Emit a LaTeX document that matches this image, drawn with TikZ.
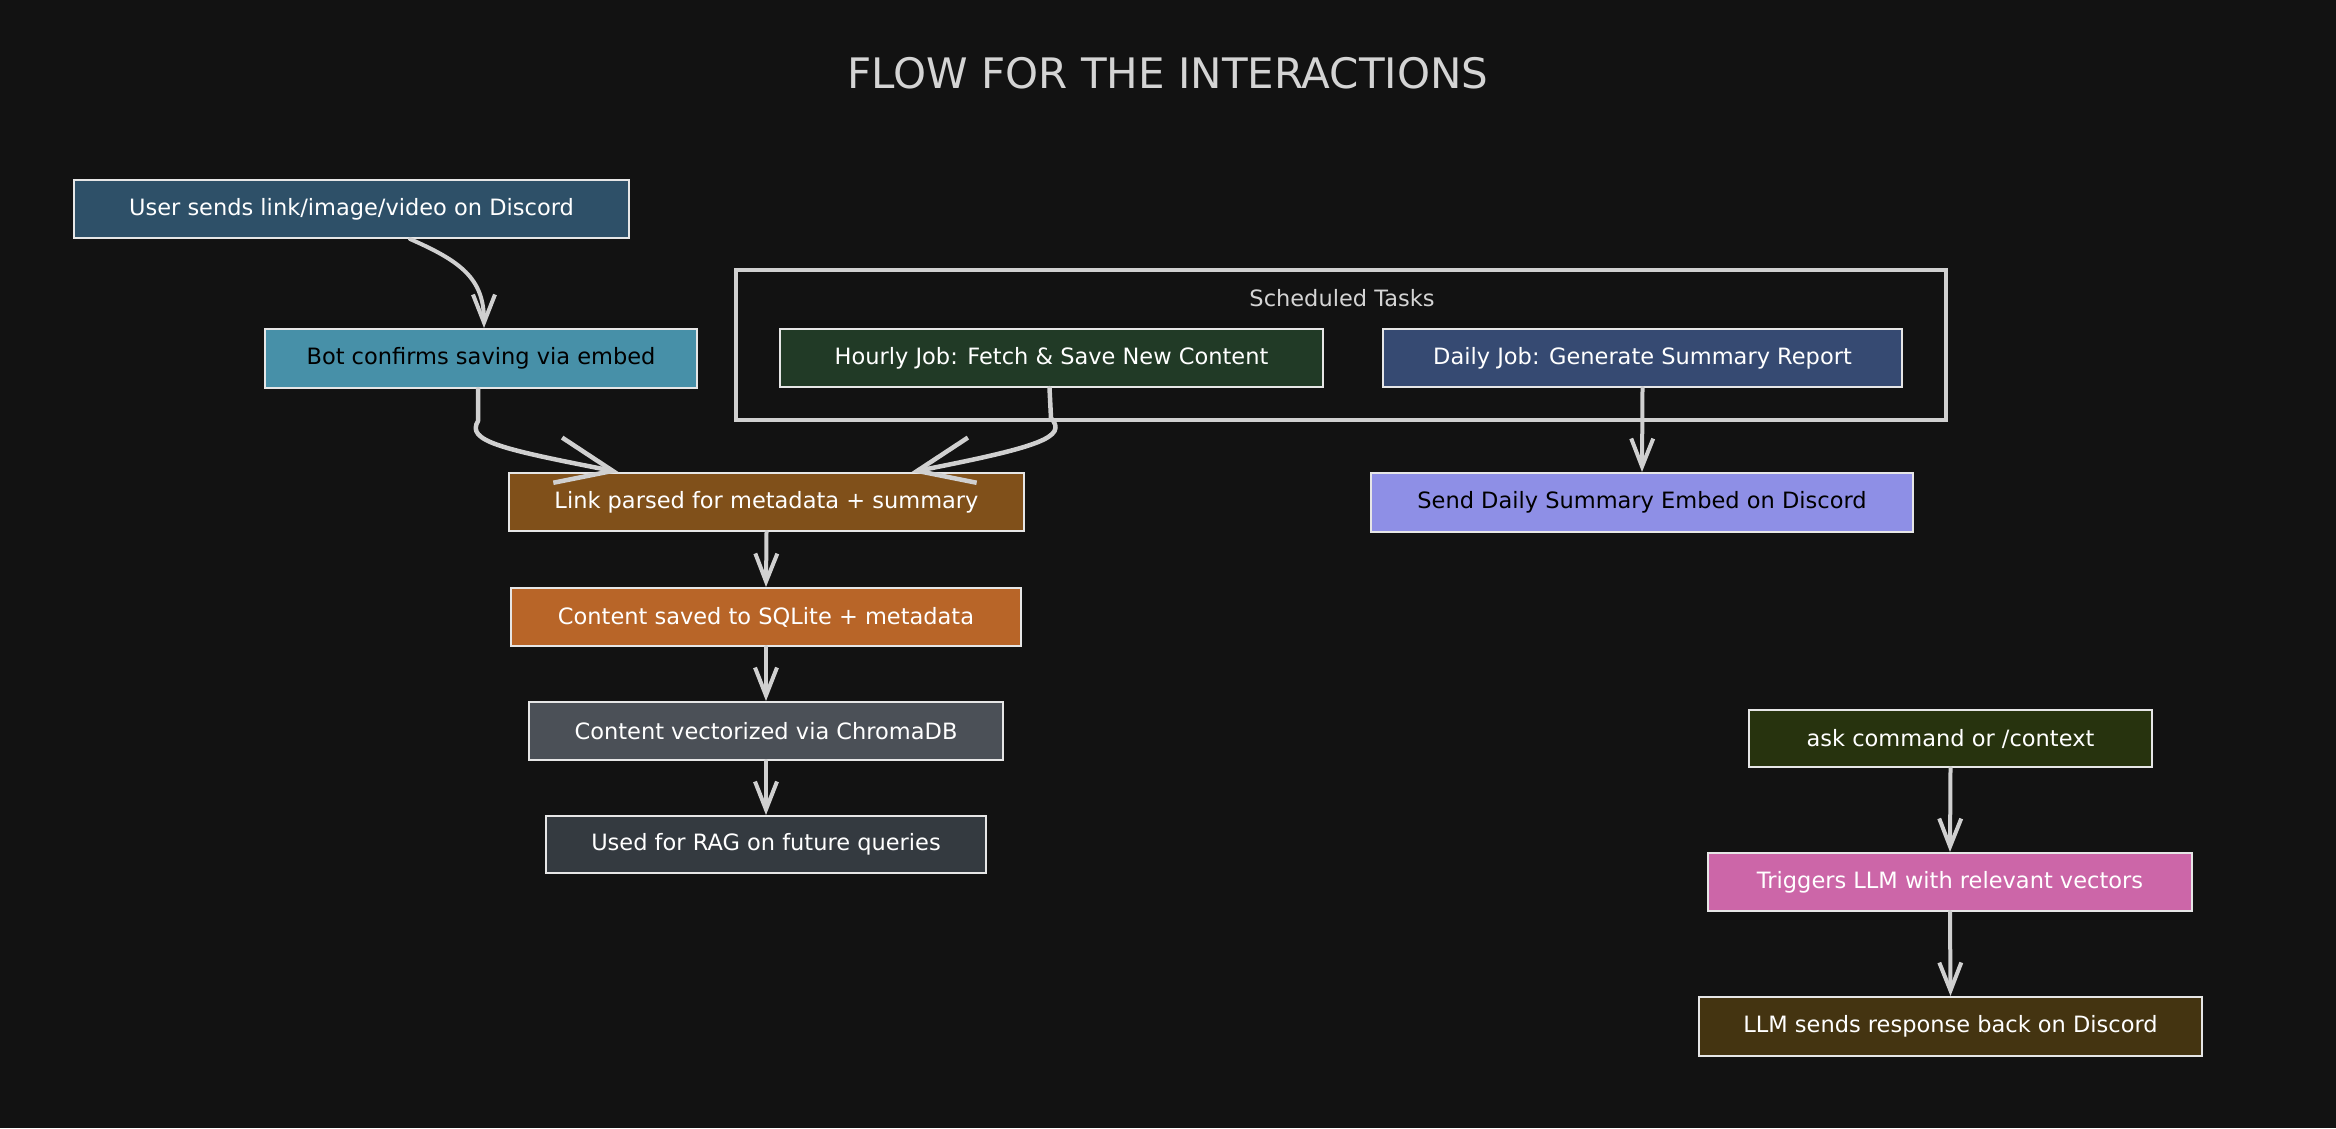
\documentclass[tikz,border=0pt]{standalone}
\usepackage{fontspec}
\setmainfont{DejaVu Sans}
\usetikzlibrary{arrows.meta}
\definecolor{bgc}{HTML}{121212}
\definecolor{boxline}{HTML}{E6E6E6}
\definecolor{arrcol}{HTML}{D0D0D0}
\definecolor{titlec}{HTML}{D4D4D4}
\definecolor{cuser}{HTML}{2E5068}
\definecolor{cbot}{HTML}{4790A8}
\definecolor{chourly}{HTML}{213A26}
\definecolor{cdaily}{HTML}{364A72}
\definecolor{csend}{HTML}{8E8FE6}
\definecolor{clink}{HTML}{80501A}
\definecolor{csaved}{HTML}{B86528}
\definecolor{cvect}{HTML}{4B5057}
\definecolor{crag}{HTML}{343A40}
\definecolor{cask}{HTML}{27330E}
\definecolor{ctrig}{HTML}{CC66A8}
\definecolor{cllm}{HTML}{443411}
\begin{document}
\begin{tikzpicture}[x=1pt,y=-1pt,
  box/.style={draw=boxline, line width=2pt, inner sep=0pt, text=white,
    font=\fontsize{22.5}{27}\selectfont},
  arr/.style={draw=arrcol, line width=4pt, line cap=round, line join=round,
    -{Straight Barb[length=28pt,width=22pt]}},
  bigarr/.style={draw=arrcol, line width=4.5pt, line cap=round, line join=round,
    -{Straight Barb[length=56pt,width=46pt]}}]
\fill[bgc] (0,0) rectangle (2336,1128);
\useasboundingbox (0,0) rectangle (2336,1128);

\node[text=titlec, font=\fontsize{42}{48}\selectfont] (title) at (1168,73) {FLOW FOR THE INTERACTIONS};

% scheduled group
\node[draw=arrcol, line width=4pt, minimum width=1210pt, minimum height=150pt, inner sep=0pt] (group) at (1341,345) {};
\node[text=titlec, font=\fontsize{22.5}{27}\selectfont] (schedlabel) at (1342,298) {Scheduled Tasks};

\node[box, fill=cuser, minimum width=555pt, minimum height=58pt] (user) at (351.5,209) {User sends link/image/video on Discord};
\node[box, fill=cbot, text=black, minimum width=432pt, minimum height=59pt] (bot) at (481,358.5) {Bot confirms saving via embed};
\node[box, fill=chourly, minimum width=543pt, minimum height=58pt] (hourly) at (1051.5,358) {Hourly Job: Fetch \& Save New Content};
\node[box, fill=cdaily, minimum width=519pt, minimum height=58pt] (daily) at (1642.5,358) {Daily Job: Generate Summary Report};
\node[box, fill=csend, text=black, minimum width=542pt, minimum height=59pt] (send) at (1642,502.5) {Send Daily Summary Embed on Discord};
\node[box, fill=clink, minimum width=515pt, minimum height=58pt] (link) at (766.5,502) {Link parsed for metadata + summary};
\node[box, fill=csaved, minimum width=510pt, minimum height=58pt] (saved) at (766,617) {Content saved to SQLite + metadata};
\node[box, fill=cvect, minimum width=474pt, minimum height=58pt] (vect) at (766,731) {Content vectorized via ChromaDB};
\node[box, fill=crag, minimum width=440pt, minimum height=57pt] (rag) at (766,844.5) {Used for RAG on future queries};
\node[box, fill=cask, minimum width=403pt, minimum height=57pt] (ask) at (1950.5,738.5) {ask command or /context};
\node[box, fill=ctrig, minimum width=484pt, minimum height=58pt] (trig) at (1950,882) {Triggers LLM with relevant vectors};
\node[box, fill=cllm, minimum width=503pt, minimum height=59pt] (llm) at (1950.5,1026.5) {LLM sends response back on Discord};

% connectors
\draw[arr] ([xshift=58.5pt]user.south) .. controls +(50,22) and +(0,-50) .. ([xshift=3pt]bot.north);
\draw[bigarr] ([xshift=-3pt]bot.south) -- ++(0,32) .. controls +(-12,20) and +(-118,-23) .. ([xshift=-148pt]link.north);
\draw[bigarr] ([xshift=-2pt]hourly.south) -- ++(1.5,30) .. controls +(17,19) and +(128.5,-25) .. ([xshift=145pt]link.north);
\draw[arr] (daily.south) -- (send.north);
\draw[arr] (link.south) -- (saved.north);
\draw[arr] (saved.south) -- (vect.north);
\draw[arr] (vect.south) -- (rag.north);
\draw[arr] (ask.south) -- (trig.north);
\draw[arr] (trig.south) -- (llm.north);
\end{tikzpicture}
\end{document}
